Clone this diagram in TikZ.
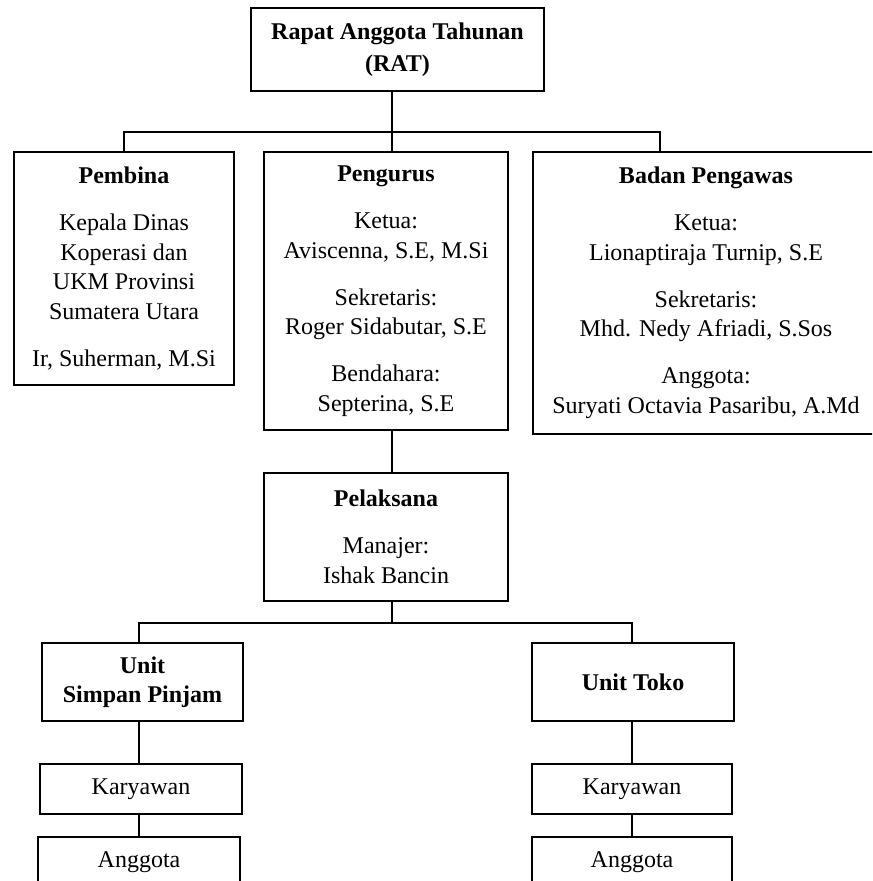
\documentclass[tikz,border=0pt]{standalone}
\usepackage{fontspec}
\setmainfont{Liberation Serif}
\usetikzlibrary{calc}
\tikzstyle{box} = [draw,line width=1.4pt,align=center,inner sep=0pt,font=\fontsize{12}{14.75}\selectfont]
\tikzstyle{line} = [line width=1.3pt]

\begin{document}
\begin{tikzpicture}[x=0.5pt,y=-0.5pt]
\useasboundingbox (0,0) rectangle (872,881);
\clip (0,0) rectangle (872,881);

% Draw blocks
    \def\gap{8.75pt}
    \node[box,minimum width=146.5pt,minimum height=41.5pt] at (397.5,49.5) (rat) {\textbf{Rapat Anggota Tahunan}\\[1.25pt]\textbf{(RAT)}};
    \node[box,minimum width=110pt,minimum height=116.5pt] at (124,268.5) (pembina) {\textbf{Pembina}\\[\gap]Kepala Dinas\\Koperasi dan\\UKM Provinsi\\Sumatera Utara\\[\gap]Ir, Suherman, M.Si};
    \node[box,minimum width=122pt,minimum height=139pt] at (386,291) (pengurus) {\textbf{Pengurus}\\[\gap]Ketua:\\Aviscenna, S.E, M.Si\\[\gap]Sekretaris:\\Roger Sidabutar, S.E\\[\gap]Bendahara:\\Septerina, S.E};
    \node[box,minimum width=173pt,minimum height=141pt] at (706,293) (pengawas) {\textbf{Badan Pengawas}\\[\gap]Ketua:\\Lionaptiraja Turnip, S.E\\[\gap]Sekretaris:\\Mhd. Nedy Afriadi, S.Sos\\[\gap]Anggota:\\Suryati Octavia Pasaribu, A.Md};
    \node[box,minimum width=122pt,minimum height=64pt] at (386,537) (pelaksana) {\textbf{Pelaksana}\\[\gap]Manajer:\\Ishak Bancin};
    \node[box,minimum width=100.5pt,minimum height=39pt] at (142.5,682) (unitsp) {\textbf{Unit}\\\textbf{Simpan Pinjam}};
    \node[box,minimum width=101pt,minimum height=39pt] at (633,682) (unittoko) {\textbf{Unit Toko}};
    \node[box,minimum width=101pt,minimum height=25pt] at (141,789) (kary1) {Karyawan};
    \node[box,minimum width=100pt,minimum height=25pt] at (632,789) (kary2) {Karyawan};
    \node[box,minimum width=101pt,minimum height=25pt] at (139,862) (ang1) {Anggota};
    \node[box,minimum width=100pt,minimum height=25pt] at (632,862) (ang2) {Anggota};

% Connectors
    \coordinate (bus1) at (392,132);
    \coordinate (bus2) at (392,623);
    \coordinate (tapB) at (660,0);
    \coordinate (c1) at (139,0);
    \coordinate (c2) at (632,0);
    \draw[line] (rat.south -| bus1) -- (pengurus.north -| bus1);
    \draw[line] (pembina.north) |- (bus1) -| (pengawas.north -| tapB);
    \draw[line] (pengurus.south -| bus1) -- (pelaksana.north -| bus1);
    \draw[line] (pelaksana.south -| bus2) -- (bus2);
    \draw[line] (unitsp.north -| c1) |- (bus2) -| (unittoko.north -| c2);
    \draw[line] (unitsp.south -| c1) -- (kary1.north -| c1);
    \draw[line] (kary1.south -| c1) -- (ang1.north -| c1);
    \draw[line] (unittoko.south -| c2) -- (kary2.north -| c2);
    \draw[line] (kary2.south -| c2) -- (ang2.north -| c2);

\end{tikzpicture}
\end{document}
